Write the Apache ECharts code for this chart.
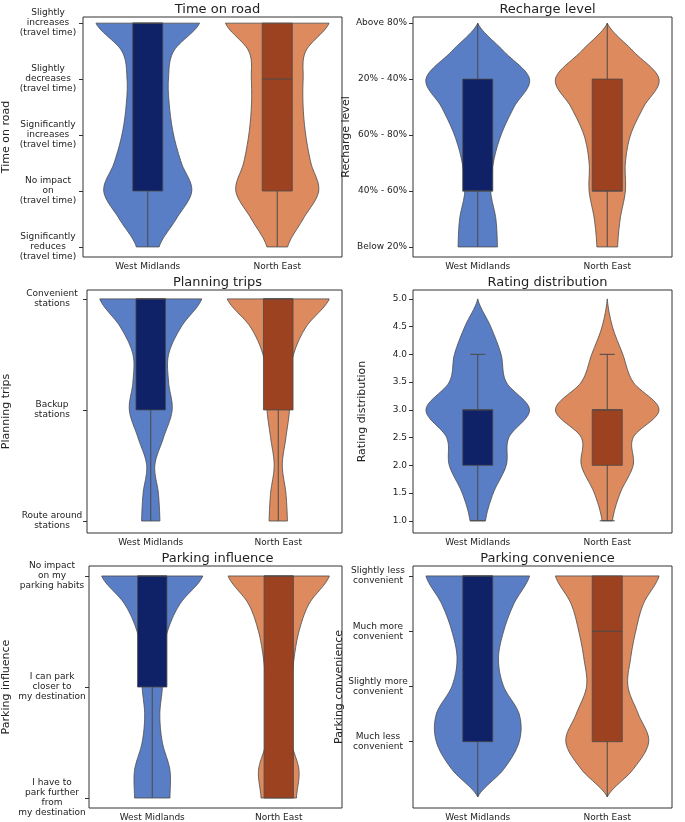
<!DOCTYPE html>
<html><head><meta charset="utf-8">
<script src="https://cdn.jsdelivr.net/npm/echarts@6/dist/echarts.min.js"></script>
<style>html,body{margin:0;padding:0;background:#fff}#c{width:685px;height:822px}</style>
</head><body><div id="c"></div>
<script>
const groups = ['West Midlands', 'North East'];

// Time on road
const trLabels = ['Significantly\nreduces\n(travel time)', 'No impact\non\n(travel time)', 'Significantly\nincreases\n(travel time)', 'Slightly\ndecreases\n(travel time)', 'Slightly\nincreases\n(travel time)'];
const trSamples = [0, 0.5, 1, 1.5, 2, 2.5, 3, 3.5, 4];
const trDensWM = [0.22, 0.55, 0.85, 0.65, 0.5, 0.42, 0.4, 0.5, 1.0];
const trDensNE = [0.2, 0.5, 0.8, 0.65, 0.55, 0.5, 0.5, 0.55, 1.0];
const trBoxWM = [0, 1, 4, 4, 4];   // whiskerLow, q1, median, q3, whiskerHigh
const trBoxNE = [0, 1, 3, 4, 4];

// Recharge level
const rlLabels = ['Below 20%', '40% - 60%', '60% - 80%', '20% - 40%', 'Above 80%'];
const rlSamples = [0, 0.5, 1, 1.5, 2, 2.5, 3, 3.5, 4];
const rlDensWM = [0.38, 0.35, 0.25, 0.3, 0.45, 0.7, 1.0, 0.5, 0.0];
const rlDensNE = [0.2, 0.25, 0.35, 0.35, 0.45, 0.7, 1.0, 0.5, 0.0];
const rlBoxWM = [0, 1, 1, 3, 4];
const rlBoxNE = [0, 1, 1, 3, 4];

// Planning trips
const ptLabels = ['Route around\nstations', 'Backup\nstations', 'Convenient\nstations'];
const ptSamples = [0, 0.25, 0.5, 0.75, 1, 1.25, 1.5, 1.75, 2];
const ptDensWM = [0.18, 0.15, 0.08, 0.25, 0.42, 0.35, 0.35, 0.6, 1.0];
const ptDensNE = [0.18, 0.15, 0.08, 0.15, 0.22, 0.22, 0.3, 0.55, 1.0];
const ptBoxWM = [0, 1, 2, 2, 2];
const ptBoxNE = [0, 1, 2, 2, 2];

// Rating distribution
const rdTicks = [1.0, 1.5, 2.0, 2.5, 3.0, 3.5, 4.0, 4.5, 5.0];
const rdSamples = [1, 1.5, 2, 2.5, 3, 3.5, 4, 4.5, 5];
const rdDensWM = [0.15, 0.3, 0.55, 0.6, 1.0, 0.55, 0.45, 0.25, 0.0];
const rdDensNE = [0.1, 0.25, 0.5, 0.5, 1.0, 0.5, 0.3, 0.1, 0.0];
const rdBoxWM = [1, 2, 3, 3, 4];
const rdBoxNE = [1, 2, 3, 3, 4];

// Parking influence
const piLabels = ['I have to\npark further\nfrom\nmy destination', 'I can park\ncloser to\nmy destination', 'No impact\non my\nparking habits'];
const piSamples = [0, 0.25, 0.5, 0.75, 1, 1.25, 1.5, 1.75, 2];
const piDensWM = [0.35, 0.35, 0.2, 0.15, 0.2, 0.2, 0.3, 0.55, 1.0];
const piDensNE = [0.35, 0.4, 0.25, 0.22, 0.25, 0.3, 0.4, 0.6, 1.0];
const piBoxWM = [0, 1, 2, 2, 2];
const piBoxNE = [0, 0, 2, 2, 2];

// Parking convenience
const pcLabels = ['Much less\nconvenient', 'Slightly more\nconvenient', 'Much more\nconvenient', 'Slightly less\nconvenient'];
const pcSamples = [-1, -0.5, 0, 0.5, 1, 1.5, 2, 2.5, 3];
const pcDensWM = [0.0, 0.5, 0.8, 0.8, 0.5, 0.4, 0.5, 0.7, 1.0];
const pcDensNE = [0.0, 0.5, 0.8, 0.6, 0.4, 0.45, 0.55, 0.7, 1.0];
const pcBoxWM = [-1, 0, 3, 3, 3];
const pcBoxNE = [-1, 0, 2, 3, 3];

const VC = ['#5a7ec6', '#dd8a5e'];
const BC = ['#0f2167', '#9c4220'];
const EDGE = '#4a4a4a';
const FONT = 'DejaVu Sans';

const panels = [
  {title:'Time on road', name:'Time on road', grid:{left:83,width:259,top:17,height:240}, min:-0.18, max:4.11,
   tickVals:[0,1,2,3,4], fmt:v=>trLabels[v], align:'center', margin:35, gap:71, samples:trSamples, dens:[trDensWM,trDensNE], box:[trBoxWM,trBoxNE]},
  {title:'Recharge level', name:'Recharge level', grid:{left:413,width:259,top:17,height:240}, min:-0.18, max:4.11,
   tickVals:[0,1,2,3,4], fmt:v=>rlLabels[v], align:'right', margin:6, gap:55, samples:rlSamples, dens:[rlDensWM,rlDensNE], box:[rlBoxWM,rlBoxNE]},
  {title:'Planning trips', name:'Planning trips', grid:{left:83,width:259,top:290,height:243}, min:-0.108, max:2.08,
   tickVals:[0,1,2], fmt:v=>ptLabels[v], align:'center', margin:35, gap:75, samples:ptSamples, dens:[ptDensWM,ptDensNE], box:[ptBoxWM,ptBoxNE]},
  {title:'Rating distribution', name:'Rating distribution', grid:{left:413,width:259,top:290,height:243}, min:0.78, max:5.16,
   tickVals:rdTicks, fmt:v=>Number(v).toFixed(1), align:'right', margin:6, gap:45, samples:rdSamples, dens:[rdDensWM,rdDensNE], box:[rdBoxWM,rdBoxNE], caps:true},
  {title:'Parking influence', name:'Parking influence', grid:{left:83,width:259,top:566,height:243}, min:-0.09, max:2.09,
   tickVals:[0,1,2], fmt:v=>piLabels[v], align:'center', margin:37, gap:77, samples:piSamples, dens:[piDensWM,piDensNE], box:[piBoxWM,piBoxNE]},
  {title:'Parking convenience', name:'Parking convenience', grid:{left:413,width:259,top:566,height:243}, min:-1.2, max:3.18,
   tickVals:[0,1,2,3], fmt:v=>pcLabels[v], align:'center', margin:35, gap:60, samples:pcSamples, dens:[pcDensWM,pcDensNE], box:[pcBoxWM,pcBoxNE]}
];

// Catmull-Rom drawing of one violin side (drawing only, not data)
function sidePath(ys, ws) {
  const out = [];
  const n = ys.length;
  for (let i = 0; i < n - 1; i++) {
    const w0 = ws[Math.max(i-1,0)], w1 = ws[i], w2 = ws[i+1], w3 = ws[Math.min(i+2,n-1)];
    const y1 = ys[i], y2 = ys[i+1];
    for (let s = 0; s < 12; s++) {
      const t = s / 12, t2 = t*t, t3 = t2*t;
      let w = 0.5*((2*w1) + (-w0+w2)*t + (2*w0-5*w1+4*w2-w3)*t2 + (-w0+3*w1-3*w2+w3)*t3);
      out.push([Math.max(w, 0), y1 + (y2-y1)*t]);
    }
  }
  out.push([ws[n-1], ys[n-1]]);
  return out;
}

const option = {animation:false, title:[], grid:[], xAxis:[], yAxis:[], series:[]};
panels.forEach((p, i) => {
  option.title.push({text:p.title, left:p.grid.left + p.grid.width/2, top:p.grid.top - 19, textAlign:'center',
    textStyle:{fontFamily:FONT, fontSize:13, fontWeight:'normal', color:'#222'}});
  option.grid.push(Object.assign({show:true, borderColor:'#333', borderWidth:1, backgroundColor:'transparent'}, p.grid));
  option.xAxis.push({type:'category', gridIndex:i, data:groups, boundaryGap:true,
    axisLine:{show:false}, axisTick:{alignWithLabel:true, length:4, lineStyle:{color:'#333'}},
    axisLabel:{fontFamily:FONT, fontSize:9, color:'#222', margin:5}, splitLine:{show:false}});
  option.yAxis.push({type:'value', gridIndex:i, min:p.min, max:p.max, name:p.name, nameLocation:'middle', nameGap:p.gap,
    nameTextStyle:{fontFamily:FONT, fontSize:11, color:'#222'},
    axisLine:{show:false}, splitLine:{show:false},
    axisTick:{show:true, length:4, customValues:p.tickVals, lineStyle:{color:'#333'}},
    axisLabel:{customValues:p.tickVals, formatter:v=>p.caps ? Number(v).toFixed(1) : p.fmt(Math.round(v)),
      fontFamily:FONT, fontSize:9, color:'#222', align:p.align, margin:p.margin, lineHeight:10}});
  option.series.push({type:'custom', xAxisIndex:i, yAxisIndex:i, data:[[0],[1]], z:2,
    renderItem:(params, api) => {
      const g = api.value(0);
      const band = api.size([1, 0])[0];
      const cx = api.coord([g, p.min])[0];
      const maxHalf = 0.4 * band;
      const ys = p.samples.map(s => api.coord([g, s])[1]);
      const side = sidePath(ys, p.dens[g]);
      const right = side.map(d => [cx + d[0]*maxHalf, d[1]]);
      const left = side.map(d => [cx - d[0]*maxHalf, d[1]]).reverse();
      const pts = right.concat(left);
      const b = p.box[g];
      const yw0 = api.coord([g, b[0]])[1], yq1 = api.coord([g, b[1]])[1], ym = api.coord([g, b[2]])[1],
            yq3 = api.coord([g, b[3]])[1], yw1 = api.coord([g, b[4]])[1];
      const bh = 0.116 * band;
      const children = [
        {type:'polygon', shape:{points:pts}, style:{fill:VC[g], stroke:EDGE, lineWidth:0.8}},
        {type:'line', shape:{x1:cx, y1:yw0, x2:cx, y2:yw1}, style:{stroke:EDGE, lineWidth:1}},
        {type:'rect', shape:{x:cx-bh, y:yq3, width:2*bh, height:yq1-yq3}, style:{fill:BC[g], stroke:EDGE, lineWidth:0.8}},
        {type:'line', shape:{x1:cx-bh, y1:ym, x2:cx+bh, y2:ym}, style:{stroke:EDGE, lineWidth:1}}
      ];
      if (p.caps) {
        const cw = bh*0.5;
        children.push({type:'line', shape:{x1:cx-cw, y1:yw1, x2:cx+cw, y2:yw1}, style:{stroke:EDGE, lineWidth:1}});
        children.push({type:'line', shape:{x1:cx-cw, y1:yw0, x2:cx+cw, y2:yw0}, style:{stroke:EDGE, lineWidth:1}});
      }
      return {type:'group', children};
    }});
});
const chart = echarts.init(document.getElementById('c'), null, {renderer:'canvas'});
chart.setOption(option);
</script></body></html>
